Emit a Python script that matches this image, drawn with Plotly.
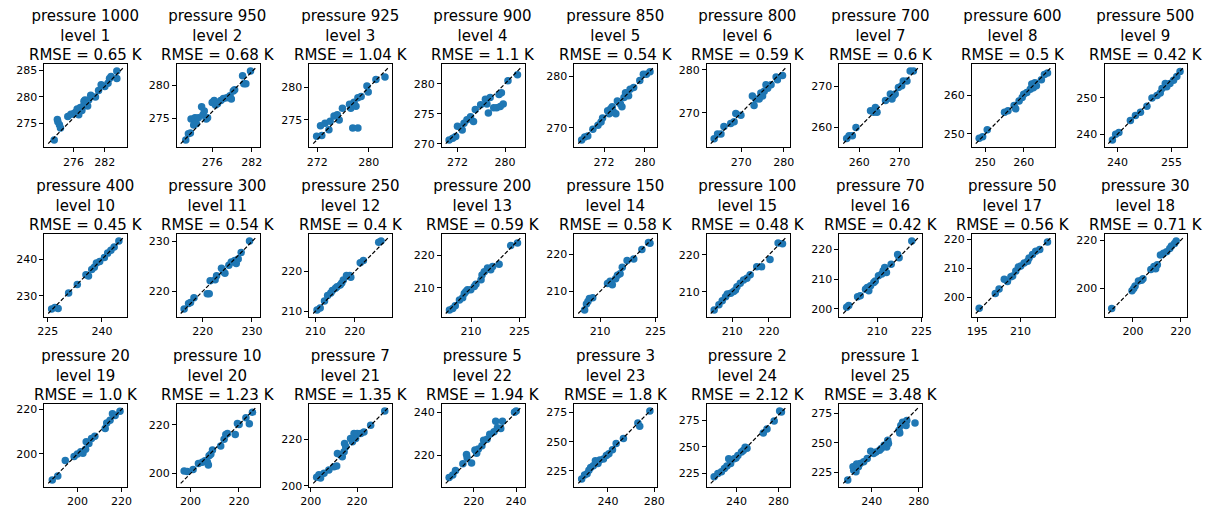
import plotly.graph_objects as go

pressures = [1000, 950, 925, 900, 850, 800, 700, 600, 500, 400, 300, 250, 200,
             150, 100, 70, 50, 30, 20, 10, 7, 5, 3, 2, 1]
rmse = ["0.65", "0.68", "1.04", "1.1", "0.54", "0.59", "0.6", "0.5", "0.42",
        "0.45", "0.54", "0.4", "0.59", "0.58", "0.48", "0.42", "0.56", "0.71",
        "1.0", "1.23", "1.35", "1.94", "1.8", "2.12", "3.48"]

T01 = [272.3, 272.9, 273.0, 273.3, 273.5, 274.9, 275.5, 276.0, 276.4, 276.7, 277.0, 277.3, 277.6, 277.9, 278.0, 278.2, 278.4, 278.7, 278.9, 279.3, 280.2, 280.8, 281.3, 282.0, 282.6, 282.9, 283.2, 284.3, 284.3]
P01 = [271.8, 275.7, 275.3, 274.7, 274.1, 276.3, 276.7, 276.8, 277.1, 277.7, 276.6, 278.0, 277.4, 278.3, 279.2, 279.4, 278.6, 278.3, 279.4, 280.3, 280.0, 281.2, 282.3, 282.0, 282.6, 283.5, 283.9, 283.5, 284.9]
T02 = [272.0, 272.4, 272.7, 272.8, 273.4, 273.2, 273.6, 273.9, 274.4, 274.6, 274.8, 275.1, 275.3, 276.0, 276.3, 276.5, 276.8, 277.3, 277.7, 278.2, 278.7, 278.9, 279.2, 279.4, 280.6, 280.8, 281.1, 281.8]
P02 = [271.75, 272.7, 272.8, 274.9, 275.1, 274.0, 274.2, 275.1, 276.75, 275.5, 276.1, 274.9, 275.1, 277.4, 277.7, 277.0, 277.2, 277.7, 278.0, 278.1, 278.4, 277.9, 279.1, 279.3, 281.4, 280.2, 280.2, 282.1]
T03 = [271.9, 272.7, 272.5, 273.2, 273.8, 274.0, 274.6, 275.1, 275.4, 275.9, 277.0, 277.2, 277.5, 278.3, 277.7, 278.0, 278.3, 278.8, 279.7, 279.9, 281.1, 282.5]
P03 = [272.5, 272.6, 274.1, 274.5, 273.5, 274.8, 275.6, 275.8, 275.0, 276.8, 277.4, 276.8, 273.75, 273.75, 277.7, 277.1, 278.4, 278.6, 280.2, 279.3, 281.2, 281.6]
T04 = [270.6, 271.2, 271.7, 272.0, 272.8, 273.1, 273.6, 274.2, 274.7, 275.0, 275.9, 276.7, 276.96, 277.2, 277.5, 278.1, 278.6, 279.0, 279.2, 279.7, 279.4, 280.5, 282.1]
P04 = [270.6, 270.9, 271.2, 272.9, 272.3, 273.4, 274.0, 274.5, 273.7, 275.7, 276.5, 277.4, 276.6, 275.1, 277.7, 276.0, 276.0, 278.2, 276.2, 276.6, 278.5, 280.5, 281.5]
T05 = [267.6, 268.2, 268.8, 269.8, 270.8, 271.4, 271.7, 272.7, 273.0, 273.3, 273.6, 273.9, 274.3, 274.6, 275.2, 275.5, 275.9, 276.2, 276.8, 277.1, 277.8, 279.0, 279.7, 280.3, 281.0]
P05 = [267.6, 268.2, 268.4, 269.7, 270.5, 271.1, 271.9, 273.3, 272.7, 273.7, 274.1, 273.0, 272.7, 275.2, 274.6, 274.1, 275.9, 276.8, 276.2, 277.5, 277.8, 279.2, 280.4, 280.4, 280.9]
T06 = [263.6, 264.4, 265.2, 265.9, 267.5, 268.3, 268.7, 269.9, 272.6, 273.0, 273.4, 274.2, 274.6, 275.0, 275.4, 275.8, 276.2, 277.0, 278.2, 278.5, 279.7]
P06 = [263.9, 265.0, 265.0, 266.8, 267.5, 267.9, 269.8, 269.4, 273.9, 271.7, 273.2, 273.2, 274.6, 273.9, 275.0, 276.5, 275.7, 276.5, 278.3, 277.7, 278.7]
T07 = [256.9, 257.5, 258.3, 259.2, 262.8, 263.6, 264.0, 264.4, 266.5, 267.7, 268.1, 268.5, 268.9, 269.7, 270.5, 270.9, 271.8, 272.6, 273.4]
P07 = [257.3, 258.0, 258.0, 260.0, 264.1, 263.7, 264.9, 263.7, 266.6, 268.2, 267.0, 267.8, 268.2, 269.8, 270.2, 271.4, 271.4, 273.8, 273.8]
T08 = [248.4, 249.3, 250.5, 255.0, 255.9, 257.5, 257.9, 258.8, 259.6, 260.0, 260.8, 261.7, 262.1, 262.5, 262.9, 263.3, 264.6, 265.4, 266.2]
P08 = [248.9, 249.3, 251.1, 255.6, 256.0, 257.3, 256.5, 258.5, 259.4, 260.2, 260.7, 261.5, 262.9, 261.9, 263.2, 262.4, 264.0, 265.3, 265.7]
T09 = [238.6, 239.5, 240.4, 243.6, 245.0, 246.4, 248.2, 249.6, 251.0, 251.9, 252.4, 253.3, 253.7, 254.6, 255.6, 256.5, 257.4]
P09 = [238.4, 240.0, 240.5, 243.8, 245.2, 246.1, 247.7, 250.0, 250.7, 251.4, 252.6, 254.0, 253.1, 254.0, 254.9, 255.9, 257.3]
T10 = [226.1, 227.0, 227.9, 230.8, 233.2, 235.6, 236.3, 237.2, 237.9, 238.5, 239.4, 240.7, 241.6, 242.5, 243.4, 244.7]
P10 = [226.4, 226.8, 226.5, 230.8, 233.1, 235.8, 235.4, 237.2, 237.8, 239.0, 239.4, 240.5, 241.7, 242.5, 243.4, 245.0]
T11 = [216.2, 217.1, 217.5, 218.2, 220.9, 221.3, 221.5, 222.5, 222.8, 223.8, 224.2, 224.5, 225.3, 225.8, 226.5, 226.8, 227.2, 227.8, 229.5]
P11 = [216.4, 217.5, 217.7, 218.7, 219.5, 219.5, 222.1, 222.3, 223.1, 224.6, 223.9, 223.6, 225.2, 225.9, 226.2, 225.6, 226.5, 227.8, 230.1]
T12 = [210.4, 211.2, 212.3, 213.1, 213.9, 214.3, 215.1, 215.5, 216.3, 216.7, 217.1, 217.9, 218.7, 219.0, 221.4, 222.2, 226.1, 226.7]
P12 = [210.3, 210.8, 212.6, 214.0, 214.6, 215.2, 215.8, 216.2, 216.6, 217.1, 217.9, 219.0, 219.0, 218.6, 222.2, 222.8, 227.4, 227.7]
T13 = [203.3, 204.3, 205.1, 206.4, 207.4, 207.9, 208.4, 208.9, 209.9, 211.0, 211.5, 213.1, 213.4, 214.1, 215.1, 216.1, 216.7, 218.7, 222.3, 224.4]
P13 = [203.2, 203.7, 204.5, 206.3, 207.0, 208.3, 208.9, 209.4, 209.4, 210.4, 211.1, 212.5, 214.0, 215.0, 216.1, 215.6, 216.6, 217.3, 223.0, 223.8]
T14 = [205.8, 206.3, 206.7, 207.1, 208.0, 212.0, 212.7, 213.3, 214.2, 214.7, 215.4, 216.0, 217.3, 219.1, 221.3, 223.1, 223.5]
P14 = [205.0, 206.6, 207.3, 208.1, 208.3, 212.1, 212.7, 211.8, 213.4, 214.3, 214.7, 216.5, 218.3, 218.7, 221.2, 223.1, 222.9]
T15 = [205.1, 206.4, 207.3, 208.2, 208.7, 209.6, 210.4, 210.9, 211.3, 212.2, 213.1, 214.0, 214.9, 216.7, 218.0, 220.3, 222.5, 223.7]
P15 = [205.1, 206.5, 207.6, 208.7, 209.4, 209.6, 210.1, 210.5, 211.4, 212.3, 213.2, 213.7, 214.6, 216.8, 216.8, 218.7, 223.2, 223.0]
T16 = [199.6, 200.3, 203.3, 204.2, 206.0, 206.6, 207.1, 207.7, 208.8, 209.3, 210.4, 211.5, 212.0, 212.5, 213.1, 214.7, 216.9, 217.4, 221.7]
P16 = [200.5, 201.1, 204.1, 204.4, 206.6, 207.2, 206.1, 207.8, 208.9, 209.4, 211.1, 211.7, 212.8, 213.9, 212.2, 215.0, 218.3, 217.2, 222.8]
T17 = [195.7, 201.3, 202.6, 204.4, 205.5, 206.7, 207.3, 208.4, 209.3, 210.1, 211.3, 212.5, 213.0, 214.2, 215.3, 216.7, 219.4]
P17 = [196.3, 201.4, 202.9, 206.3, 205.5, 207.1, 207.4, 209.1, 210.5, 210.8, 211.9, 212.5, 213.6, 214.8, 215.9, 216.5, 219.1]
T18 = [191.1, 199.6, 200.3, 200.9, 202.3, 203.6, 204.2, 207.5, 208.8, 209.5, 210.2, 211.5, 212.8, 214.1, 215.4, 216.1, 217.4, 218.1]
P18 = [191.7, 199.1, 200.0, 201.1, 203.1, 203.5, 204.1, 207.9, 209.2, 208.2, 209.9, 213.9, 214.6, 215.3, 216.6, 217.6, 218.7, 219.7]
T19 = [188.6, 191.1, 194.5, 198.5, 200.0, 201.5, 202.5, 203.7, 204.0, 205.2, 206.4, 207.9, 212.6, 213.3, 214.8, 215.9, 217.1, 219.3]
P19 = [188.3, 190.1, 197.0, 198.8, 200.0, 201.0, 200.3, 202.1, 205.5, 204.7, 206.9, 208.0, 211.4, 213.9, 215.1, 218.1, 217.3, 219.2]
T20 = [197.4, 198.7, 201.1, 203.3, 204.9, 206.0, 207.0, 207.7, 207.4, 208.4, 209.1, 212.5, 213.9, 214.6, 215.3, 218.5, 219.4, 220.1, 222.9, 224.3, 225.6]
P20 = [201.1, 200.9, 201.7, 204.1, 204.6, 205.3, 204.6, 207.3, 203.5, 207.9, 209.7, 211.3, 214.0, 216.0, 216.4, 216.0, 220.5, 220.1, 222.8, 220.4, 225.1]
T21 = [202.5, 203.5, 204.2, 205.7, 207.8, 210.0, 211.2, 211.5, 212.9, 213.6, 214.4, 215.1, 214.6, 217.2, 218.7, 218.0, 219.4, 220.1, 221.6, 223.0, 225.9, 232.0]
P21 = [203.7, 204.7, 203.3, 205.4, 206.8, 208.2, 208.5, 213.9, 213.2, 212.5, 214.6, 216.8, 218.2, 220.3, 222.4, 218.9, 220.3, 222.4, 222.4, 223.1, 226.0, 232.1]
T22 = [208.4, 210.1, 211.4, 214.9, 216.6, 216.9, 219.0, 220.6, 221.4, 222.2, 223.9, 224.7, 226.3, 227.6, 229.6, 230.4, 231.2, 233.6, 232.8, 239.3, 240.1]
P22 = [209.6, 210.7, 212.9, 216.0, 220.3, 218.8, 216.3, 222.4, 220.9, 222.9, 224.4, 227.0, 227.5, 229.8, 231.0, 235.9, 232.8, 235.9, 232.5, 240.1, 240.7]
T23 = [217.2, 219.7, 221.9, 223.5, 225.0, 227.3, 229.1, 231.3, 232.9, 236.1, 238.6, 240.8, 243.9, 247.1, 253.4, 265.9, 267.5, 276.3]
P23 = [218.1, 221.4, 222.6, 225.6, 227.9, 229.4, 233.8, 231.4, 234.4, 235.3, 238.2, 239.7, 243.2, 248.5, 252.9, 266.0, 263.2, 276.4]
T24 = [218.9, 222.4, 225.8, 228.6, 231.0, 232.7, 234.5, 237.9, 239.6, 241.4, 244.8, 246.5, 250.0, 248.3, 265.5, 269.0, 275.8, 281.0, 282.7]
P24 = [222.0, 225.0, 226.6, 229.7, 232.1, 238.9, 234.3, 238.9, 239.5, 242.0, 245.1, 246.6, 248.8, 249.7, 263.0, 266.7, 274.4, 283.7, 282.8]
T25 = [219.5, 224.0, 224.6, 227.1, 226.5, 228.6, 230.1, 233.1, 236.1, 239.1, 241.5, 243.6, 246.6, 248.1, 250.5, 252.7, 253.6, 254.2, 263.2, 264.7, 263.8, 266.2, 269.8, 269.2, 276.8]
P25 = [218.6, 229.7, 226.9, 232.0, 225.5, 229.7, 232.5, 233.9, 236.7, 242.9, 240.9, 242.3, 243.7, 245.1, 247.9, 246.5, 252.1, 249.3, 260.5, 264.6, 258.2, 267.4, 268.8, 264.6, 266.6]

x_ticks = [[276, 282], [276, 282], [272, 280], [272, 280], [272, 280], [270, 280],
           [260, 270], [250, 260], [240, 255], [225, 240], [220, 230], [210, 220],
           [210, 225], [210, 225], [210, 220], [210, 225], [195, 210], [200, 220],
           [200, 220], [200, 220], [200, 220], [220, 240], [240, 280], [240, 280],
           [240, 280]]
y_ticks = [[275, 280, 285], [275, 280], [275, 280], [270, 275, 280], [270, 280],
           [270, 280], [260, 270], [250, 260], [240, 250], [230, 240], [220, 230],
           [210, 220], [210, 220], [210, 220], [210, 220], [200, 210, 220],
           [200, 210, 220], [200, 220], [200, 220], [200, 220], [200, 220],
           [220, 240], [225, 250, 275], [225, 250, 275], [225, 250, 275]]

truth = [T01, T02, T03, T04, T05, T06, T07, T08, T09, T10, T11, T12, T13,
         T14, T15, T16, T17, T18, T19, T20, T21, T22, T23, T24, T25]
pred = [P01, P02, P03, P04, P05, P06, P07, P08, P09, P10, P11, P12, P13,
        P14, P15, P16, P17, P18, P19, P20, P21, P22, P23, P24, P25]

W, H = 1223, 508
left0, pitch_x, box_w = 36, 134.6, 84
top0, pitch_y, box_h = 64, 173, 85
FONT = "DejaVu Sans"

fig = go.Figure()
layout = dict(width=W, height=H, margin=dict(l=0, r=0, t=0, b=0),
              paper_bgcolor="white", plot_bgcolor="white", showlegend=False)
annotations = []

for k in range(25):
    r, c = divmod(k, 9)
    x0 = left0 + c * pitch_x
    y0 = top0 + r * pitch_y
    sfx = "" if k == 0 else str(k + 1)
    xs, ys = truth[k], pred[k]
    lo = min(min(xs), min(ys))
    hi = max(max(xs), max(ys))
    pad = 0.05 * (hi - lo)
    l0, l1 = lo - pad, hi + pad
    pad2 = 0.05 * (l1 - l0)
    rng = [l0 - pad2, l1 + pad2]

    fig.add_trace(go.Scatter(x=xs, y=ys, mode="markers",
                             marker=dict(color="#1f77b4", size=7.5, line=dict(width=0)),
                             xaxis="x" + sfx, yaxis="y" + sfx, hoverinfo="skip"))
    fig.add_trace(go.Scatter(x=[l0, l1], y=[l0, l1], mode="lines",
                             line=dict(color="black", width=1.2, dash="4px,2px"),
                             xaxis="x" + sfx, yaxis="y" + sfx, hoverinfo="skip"))

    common = dict(showline=True, mirror=True, linecolor="black", linewidth=1,
                  ticks="outside", ticklen=4, tickwidth=1, tickcolor="black",
                  showgrid=False, zeroline=False, range=rng,
                  tickfont=dict(family=FONT, size=11, color="black"))
    layout["xaxis" + sfx] = dict(domain=[x0 / W, (x0 + box_w) / W],
                                 anchor="y" + sfx, tickvals=x_ticks[k], **common)
    layout["yaxis" + sfx] = dict(domain=[1 - (y0 + box_h) / H, 1 - y0 / H],
                                 anchor="x" + sfx, tickvals=y_ticks[k], **common)

    cx = (x0 + box_w / 2) / W
    title = "pressure %d<br>level %d<br>RMSE = %s K" % (pressures[k], k + 1, rmse[k])
    annotations.append(dict(text=title, x=cx, y=1 - (y0 + 2) / H,
                            xref="paper", yref="paper", showarrow=False,
                            xanchor="center", yanchor="bottom", align="center",
                            font=dict(family=FONT, size=15, color="black")))

layout["annotations"] = annotations
fig.update_layout(**layout)
fig.write_html("out.html")
